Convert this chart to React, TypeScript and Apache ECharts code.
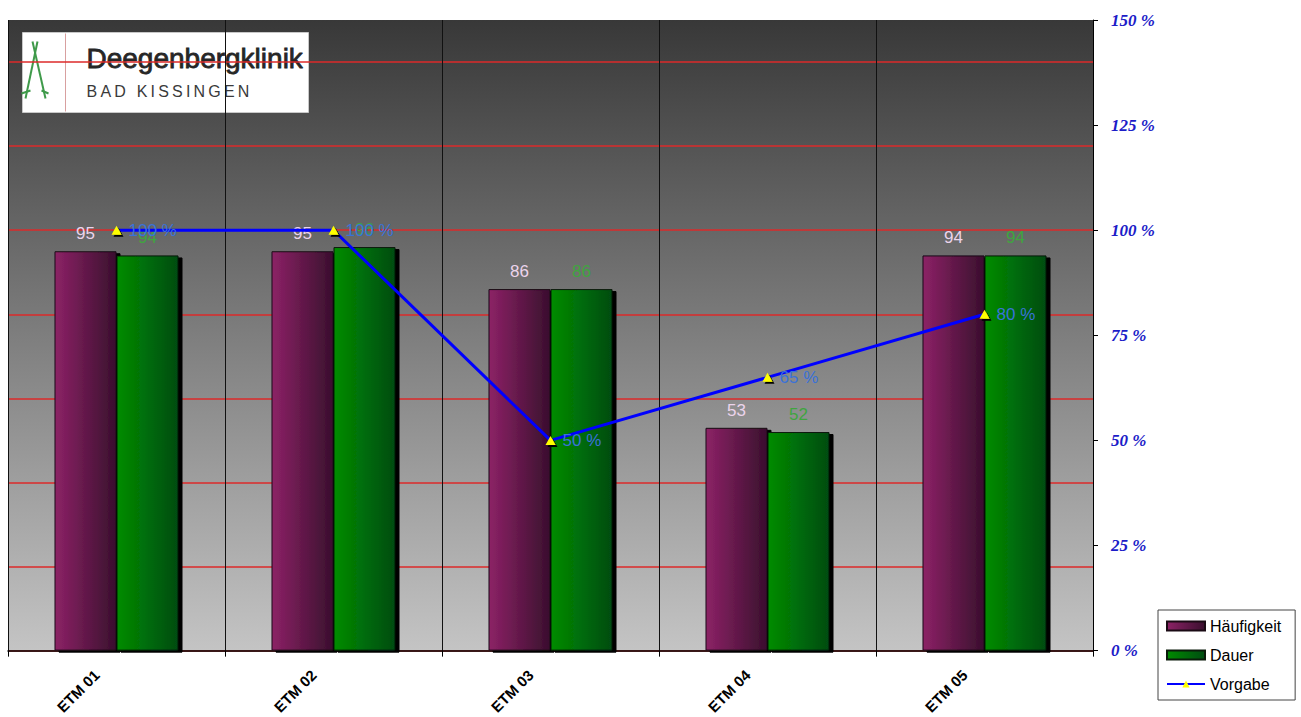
import { useEffect, useRef } from 'react';
import * as echarts from 'echarts';

// Categories and series values
const categories = ['ETM 01', 'ETM 02', 'ETM 03', 'ETM 04', 'ETM 05'];
const haeufigkeit = [95, 95, 86, 53, 94];
const dauer = [94, 96, 86, 52, 94];
const vorgabe = [100, 100, 50, 65, 80];

// Value scale (percent) shared by bars and target line
const scaleMin = 0;
const scaleMax = 150;
const labelStep = 25; // right axis labels
const gridStep = 20; // red horizontal guide lines

const FONT = "'Liberation Sans', Arial, sans-serif";
const SERIF = "'Liberation Serif', 'Times New Roman', serif";

// Red guide lines at every step below the top; the closing line at the
// top edge of the plot stays invisible.
const guideCount = Math.floor((scaleMax - scaleMin) / gridStep) + 1;
const guideColors = [
  ...Array.from({ length: guideCount }, () => '#dd2a2a'),
  'rgba(0,0,0,0)',
];

function buildLogo() {
  const x0 = 19;
  const y0 = 31;
  const stick = { stroke: '#3f9a4a', lineWidth: 2 };
  return {
    type: 'group',
    left: x0,
    top: y0,
    z: 100,
    children: [
      {
        type: 'rect',
        shape: { x: 0, y: 0, width: 286, height: 80 },
        style: { fill: '#ffffff', stroke: '#c8c8c8', lineWidth: 1 },
      },
      { type: 'line', shape: { x1: 10, y1: 9, x2: 23, y2: 66 }, style: stick },
      { type: 'line', shape: { x1: 15, y1: 9, x2: 3, y2: 66 }, style: stick },
      { type: 'line', shape: { x1: -1, y1: 61, x2: 8, y2: 58 }, style: stick },
      { type: 'line', shape: { x1: 19, y1: 58, x2: 26, y2: 61 }, style: stick },
      {
        type: 'line',
        shape: { x1: 43, y1: 1, x2: 43, y2: 79 },
        style: { stroke: '#d8a0a0', lineWidth: 1 },
      },
      {
        type: 'text',
        x: 64,
        y: 12,
        style: {
          text: 'Deegenbergklinik',
          fontFamily: FONT,
          fontSize: 28,
          fill: '#262626',
          stroke: '#262626',
          lineWidth: 0.8,
        },
      },
      {
        type: 'text',
        x: 64,
        y: 51,
        style: {
          text: 'BAD KISSINGEN'.split('').join('\u2009'),
          fontFamily: FONT,
          fontSize: 16,
          fill: '#3a3a3a',
        },
      },
    ],
  };
}

export default function App() {
  const ref = useRef<HTMLDivElement>(null);

  useEffect(() => {
    if (!ref.current) return;
    const chart = echarts.init(ref.current, null, { renderer: 'svg' });

    const purple = new echarts.graphic.LinearGradient(0, 0, 1, 0, [
      { offset: 0, color: '#8c2266' },
      { offset: 1, color: '#3a0f2e' },
    ]);
    const green = new echarts.graphic.LinearGradient(0, 0, 1, 0, [
      { offset: 0, color: '#008c00' },
      { offset: 1, color: '#004c12' },
    ]);
    const plotBg = new echarts.graphic.LinearGradient(0, 0, 0, 1, [
      { offset: 0, color: '#383838' },
      { offset: 1, color: '#c4c4c4' },
    ]);

    const barShadow = {
      shadowColor: '#000000',
      shadowOffsetX: 4,
      shadowOffsetY: 2,
      shadowBlur: 0,
    };

    chart.setOption({
      animation: false,
      backgroundColor: '#ffffff',
      textStyle: { fontFamily: FONT },
      grid: {
        left: 8,
        right: 208,
        top: 20,
        bottom: 65,
        show: true,
        backgroundColor: plotBg,
        borderWidth: 0,
      },
      legend: {
        orient: 'vertical',
        left: 1158,
        top: 610,
        padding: [8, 14, 8, 8],
        itemGap: 13,
        itemWidth: 38,
        itemHeight: 9,
        backgroundColor: '#ffffff',
        borderColor: '#444444',
        borderWidth: 1,
        textStyle: { fontSize: 16, color: '#000000', fontFamily: FONT },
        data: [
          { name: 'Häufigkeit', icon: 'rect' },
          { name: 'Dauer', icon: 'rect' },
          { name: 'Vorgabe' },
        ],
      },
      xAxis: {
        type: 'category',
        data: categories,
        boundaryGap: true,
        axisLine: { lineStyle: { color: '#000000', width: 1.5 } },
        axisTick: { show: true, length: 6, lineStyle: { color: '#000000' } },
        axisLabel: {
          rotate: 45,
          interval: 0,
          fontWeight: 'bold',
          fontSize: 15,
          color: '#000000',
          fontFamily: FONT,
          margin: 2,
          padding: [0, 28, 0, 0],
        },
        splitLine: { show: true, lineStyle: { color: '#111111', width: 1 } },
      },
      yAxis: [
        {
          type: 'value',
          position: 'left',
          min: scaleMin,
          max: scaleMax,
          interval: gridStep,
          axisLine: { show: false },
          axisTick: { show: false },
          axisLabel: { show: false },
          splitLine: { show: true, lineStyle: { color: guideColors, width: 1.5 } },
        },
        {
          type: 'value',
          position: 'right',
          min: scaleMin,
          max: scaleMax,
          interval: labelStep,
          axisLine: { show: true, lineStyle: { color: '#000000', width: 1 } },
          axisTick: { show: true, length: 5, lineStyle: { color: '#000000' } },
          axisLabel: {
            formatter: '{value} %',
            color: '#1c1cc8',
            fontStyle: 'italic',
            fontWeight: 'bold',
            fontSize: 17,
            fontFamily: SERIF,
            margin: 18,
          },
          splitLine: { show: false },
        },
      ],
      series: [
        {
          name: 'Häufigkeit',
          type: 'bar',
          yAxisIndex: 0,
          data: haeufigkeit,
          barWidth: 62,
          barGap: '0%',
          itemStyle: { color: purple, borderColor: '#1a0a14', borderWidth: 1, ...barShadow },
          label: {
            show: true,
            position: 'top',
            distance: 9,
            color: '#ecd4ec',
            fontSize: 17,
            fontFamily: FONT,
          },
        },
        {
          name: 'Dauer',
          type: 'bar',
          yAxisIndex: 0,
          data: dauer,
          barWidth: 62,
          barGap: '0%',
          itemStyle: { color: green, borderColor: '#0a1a0a', borderWidth: 1, ...barShadow },
          label: {
            show: true,
            position: 'top',
            distance: 9,
            color: '#3fa53f',
            fontSize: 17,
            fontFamily: FONT,
          },
        },
        {
          name: 'Vorgabe',
          type: 'line',
          yAxisIndex: 1,
          data: vorgabe,
          z: 5,
          symbol: 'triangle',
          symbolSize: [10, 9],
          lineStyle: { color: '#0000ff', width: 3 },
          itemStyle: {
            color: '#ffff00',
            shadowColor: '#000000',
            shadowOffsetX: 2,
            shadowOffsetY: 2,
            shadowBlur: 0,
          },
          label: {
            show: true,
            position: 'right',
            distance: 7,
            formatter: '{c} %',
            color: '#3a72d8',
            fontSize: 17,
            fontFamily: FONT,
          },
        },
      ],
      graphic: [buildLogo()],
    });

    return () => {
      chart.dispose();
    };
  }, []);

  return (
    <div
      ref={ref}
      style={{ position: 'absolute', left: 0, top: 0, width: 1301, height: 717 }}
    />
  );
}
